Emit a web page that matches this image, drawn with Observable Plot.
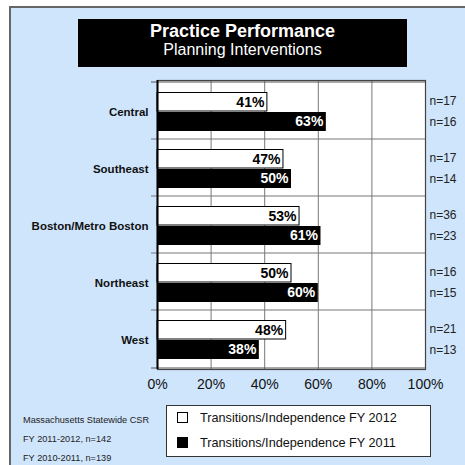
<!DOCTYPE html>
<html><head><meta charset="utf-8">
<script src="https://cdn.jsdelivr.net/npm/d3@7"></script>
<script src="https://cdn.jsdelivr.net/npm/@observablehq/plot@0.6"></script>
<style>
html,body{margin:0;padding:0;background:#fff;}
#wrap{position:relative;width:465px;height:465px;overflow:hidden;background:#fff;font-family:"Liberation Sans",Arial,Helvetica,sans-serif;}
#panel{position:absolute;left:9px;top:6px;width:470px;height:470px;background:#cfe5fc;border-left:2px solid #666;border-top:2px solid #666;box-sizing:border-box;}
#titlebox{position:absolute;left:78px;top:19px;width:329px;height:48px;background:#000;color:#fff;text-align:center;}
#title{position:absolute;left:0;right:0;top:2px;font-size:18px;font-weight:bold;line-height:21px;}
#subtitle{position:absolute;left:0;right:0;top:22px;font-size:16px;line-height:18px;}
#chart{position:absolute;left:0;top:0;}
#legend{position:absolute;left:166px;top:405px;width:265px;height:52px;background:#fff;border:1.5px solid #333;box-sizing:border-box;}
.li{position:absolute;left:10px;height:18px;font-size:12.7px;line-height:18px;color:#111;white-space:nowrap;}
.sw{display:inline-block;width:11px;height:11px;box-sizing:border-box;border:1px solid #000;vertical-align:-1px;margin-right:12px;}
.note{position:absolute;left:23px;font-size:9.2px;line-height:12px;color:#222;white-space:nowrap;}
</style></head><body>
<div id="wrap">
  <div id="panel"></div>
  <div id="titlebox"><div id="title"></div><div id="subtitle"></div></div>
  <div id="chart"></div>
  <div id="legend"></div>
  <div id="notes"></div>
</div>
<script>
const titleText = "Practice Performance";
const subtitleText = "Planning Interventions";
const regions = ["Central", "Southeast", "Boston/Metro Boston", "Northeast", "West"];
const fy2012 = [41, 47, 53, 50, 48];
const fy2011 = [63, 50, 61, 60, 38];
const n2012 = [17, 17, 36, 16, 21];
const n2011 = [16, 14, 23, 15, 13];
const xTicks = [0, 20, 40, 60, 80, 100];
const seriesNames = ["Transitions/Independence FY 2012", "Transitions/Independence FY 2011"];
const seriesFills = ["#fff", "#000"];
const notes = ["Massachusetts Statewide CSR", "FY 2011-2012, n=142", "FY 2010-2011, n=139"];

document.getElementById("title").textContent = titleText;
document.getElementById("subtitle").textContent = subtitleText;

const rows2012 = regions.map((r, i) => ({region: r, value: fy2012[i], n: n2012[i]}));
const rows2011 = regions.map((r, i) => ({region: r, value: fy2011[i], n: n2011[i]}));

const font = "Liberation Sans, Arial, Helvetica, sans-serif";

const chart = Plot.plot({
  width: 465,
  height: 465,
  marginTop: 80,
  marginBottom: 96,
  marginLeft: 157,
  marginRight: 40,
  style: {background: "transparent", fontFamily: font, overflow: "visible"},
  x: {domain: [0, 100]},
  y: {domain: regions, padding: 0},
  marks: [
    Plot.frame({fill: "white", stroke: null}),
    Plot.gridX(xTicks.slice(1, -1), {stroke: "#777", strokeOpacity: 1, strokeWidth: 1}),
    Plot.ruleY(regions.slice(1), {dy: -29, stroke: "#777", strokeWidth: 1, insetLeft: -6}),
    Plot.ruleY(regions.slice(0, 1), {dy: -29, stroke: "#555", strokeWidth: 1, insetLeft: -6}),
    Plot.ruleY(regions.slice(-1), {dy: 29, stroke: "#555", strokeWidth: 1, insetLeft: -6}),
    Plot.barX(rows2012, {x: "value", y: "region", fill: seriesFills[0], stroke: "#000", strokeWidth: 1, insetTop: 10.5, insetBottom: 28}),
    Plot.barX(rows2011, {x: "value", y: "region", fill: seriesFills[1], insetTop: 30, insetBottom: 8}),
    Plot.frame({stroke: "#444", strokeWidth: 1.2}),
    Plot.ruleX([0], {stroke: "#000", strokeWidth: 2}),
    Plot.text(rows2012, {x: "value", y: "region", text: d => d.value + "%", textAnchor: "end", dx: -3, dy: -8.5, fontWeight: "bold", fontSize: 14, fill: "#000"}),
    Plot.text(rows2011, {x: "value", y: "region", text: d => d.value + "%", textAnchor: "end", dx: -3, dy: 11, fontWeight: "bold", fontSize: 14, fill: "#fff"}),
    Plot.text(rows2012, {y: "region", frameAnchor: "right", text: d => "n=" + d.n, textAnchor: "start", dx: 4, dy: -10, fontSize: 12, fill: "#222"}),
    Plot.text(rows2011, {y: "region", frameAnchor: "right", text: d => "n=" + d.n, textAnchor: "start", dx: 4, dy: 11, fontSize: 12, fill: "#222"}),
    Plot.axisY({tickSize: 0, tickPadding: 9, fontSize: 11.5, fontWeight: "bold", label: null, dy: 1, fill: "#111"}),
    Plot.axisX(xTicks, {tickSize: 0, tickPadding: 10, tickFormat: d => d + "%", fontSize: 14, label: null, fill: "#111"})
  ]
});
document.getElementById("chart").appendChild(chart);

const legend = document.getElementById("legend");
seriesNames.forEach((name, i) => {
  const div = document.createElement("div");
  div.className = "li";
  div.style.top = (3 + i * 25) + "px";
  const sw = document.createElement("span");
  sw.className = "sw";
  sw.style.background = seriesFills[i];
  div.appendChild(sw);
  div.appendChild(document.createTextNode(name));
  legend.appendChild(div);
});

const notesEl = document.getElementById("notes");
notes.forEach((t, i) => {
  const div = document.createElement("div");
  div.className = "note";
  div.style.top = (414 + i * 19) + "px";
  div.textContent = t;
  notesEl.appendChild(div);
});
</script>
</body></html>
